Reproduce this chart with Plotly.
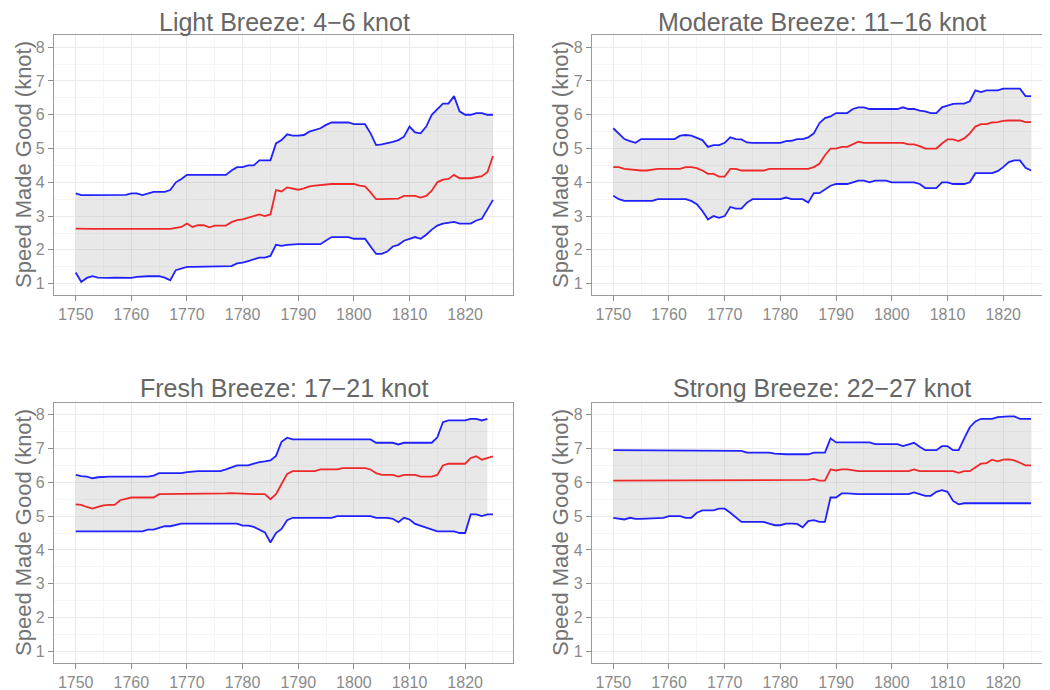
import plotly.graph_objects as go

years = list(range(1750, 1826))

titles = ["Light Breeze: 4\u22126 knot", "Moderate Breeze: 11\u221216 knot",
          "Fresh Breeze: 17\u221221 knot", "Strong Breeze: 22\u221227 knot"]

lb_upper = [3.67, 3.62, 3.62, 3.62, 3.62, 3.62, 3.62, 3.62, 3.62, 3.63,
            3.67, 3.67, 3.62, 3.67, 3.72, 3.72, 3.72, 3.77, 4.00, 4.10,
            4.22, 4.22, 4.22, 4.22, 4.22, 4.22, 4.22, 4.22, 4.35, 4.45,
            4.45, 4.50, 4.50, 4.65, 4.65, 4.65, 5.15, 5.25, 5.42, 5.38,
            5.38, 5.40, 5.50, 5.55, 5.60, 5.70, 5.77, 5.77, 5.77, 5.77,
            5.72, 5.72, 5.72, 5.45, 5.10, 5.12, 5.15, 5.20, 5.25, 5.35,
            5.65, 5.48, 5.45, 5.65, 6.00, 6.18, 6.33, 6.33, 6.55, 6.10,
            6.00, 6.00, 6.05, 6.05, 6.00, 6.00]
lb_mean = [2.63, 2.62, 2.62, 2.62, 2.62, 2.62, 2.62, 2.62, 2.62, 2.62,
           2.62, 2.62, 2.62, 2.62, 2.62, 2.62, 2.62, 2.62, 2.65, 2.68,
           2.78, 2.68, 2.73, 2.73, 2.67, 2.72, 2.72, 2.72, 2.82, 2.88,
           2.90, 2.95, 3.00, 3.05, 3.00, 3.05, 3.77, 3.73, 3.85, 3.82,
           3.78, 3.82, 3.88, 3.90, 3.92, 3.93, 3.95, 3.95, 3.95, 3.95,
           3.95, 3.90, 3.88, 3.70, 3.50, 3.50, 3.50, 3.52, 3.52, 3.60,
           3.60, 3.60, 3.55, 3.60, 3.75, 4.00, 4.08, 4.10, 4.22, 4.12,
           4.12, 4.12, 4.15, 4.18, 4.30, 4.78]
lb_lower = [1.33, 1.05, 1.17, 1.22, 1.18, 1.17, 1.17, 1.18, 1.17, 1.17,
            1.17, 1.20, 1.22, 1.22, 1.22, 1.22, 1.18, 1.10, 1.40, 1.45,
            1.50, 1.50, 1.50, 1.50, 1.50, 1.50, 1.50, 1.50, 1.52, 1.60,
            1.62, 1.67, 1.72, 1.77, 1.77, 1.82, 2.15, 2.12, 2.15, 2.17,
            2.17, 2.17, 2.17, 2.17, 2.17, 2.28, 2.38, 2.38, 2.38, 2.38,
            2.33, 2.33, 2.33, 2.10, 1.88, 1.88, 1.95, 2.10, 2.15, 2.27,
            2.33, 2.38, 2.33, 2.45, 2.60, 2.72, 2.78, 2.80, 2.83, 2.78,
            2.78, 2.78, 2.87, 2.92, 3.20, 3.48]

mb_upper = [5.60, 5.45, 5.28, 5.22, 5.17, 5.28, 5.28, 5.28, 5.28, 5.28,
            5.28, 5.28, 5.38, 5.40, 5.38, 5.32, 5.25, 5.05, 5.10, 5.10,
            5.17, 5.33, 5.28, 5.27, 5.18, 5.17, 5.17, 5.17, 5.17, 5.17,
            5.17, 5.22, 5.23, 5.28, 5.28, 5.33, 5.45, 5.75, 5.90, 5.95,
            6.05, 6.05, 6.05, 6.17, 6.22, 6.22, 6.17, 6.17, 6.17, 6.17,
            6.17, 6.17, 6.22, 6.17, 6.17, 6.12, 6.10, 6.05, 6.05, 6.22,
            6.27, 6.32, 6.33, 6.33, 6.40, 6.72, 6.67, 6.72, 6.72, 6.72,
            6.77, 6.77, 6.77, 6.77, 6.55, 6.55]
mb_mean = [4.45, 4.45, 4.40, 4.38, 4.35, 4.35, 4.35, 4.38, 4.40, 4.40,
           4.40, 4.40, 4.40, 4.45, 4.45, 4.42, 4.35, 4.25, 4.25, 4.17,
           4.17, 4.40, 4.40, 4.35, 4.35, 4.35, 4.35, 4.35, 4.40, 4.40,
           4.40, 4.40, 4.40, 4.40, 4.40, 4.40, 4.45, 4.55, 4.80, 5.00,
           5.00, 5.05, 5.05, 5.12, 5.20, 5.17, 5.17, 5.17, 5.17, 5.17,
           5.17, 5.17, 5.17, 5.12, 5.12, 5.07, 5.00, 5.00, 5.00, 5.15,
           5.27, 5.27, 5.22, 5.30, 5.45, 5.65, 5.72, 5.72, 5.77, 5.78,
           5.82, 5.83, 5.83, 5.83, 5.78, 5.78]
mb_lower = [3.60, 3.50, 3.45, 3.45, 3.45, 3.45, 3.45, 3.45, 3.50, 3.50,
            3.50, 3.50, 3.50, 3.50, 3.45, 3.35, 3.15, 2.90, 3.00, 2.95,
            3.00, 3.27, 3.22, 3.22, 3.40, 3.50, 3.50, 3.50, 3.50, 3.50,
            3.50, 3.55, 3.50, 3.50, 3.50, 3.40, 3.68, 3.68, 3.80, 3.90,
            3.95, 3.95, 3.95, 4.00, 4.05, 4.05, 4.00, 4.05, 4.05, 4.05,
            4.00, 4.00, 4.00, 4.00, 4.00, 3.95, 3.83, 3.83, 3.83, 4.00,
            4.00, 3.95, 3.95, 3.95, 4.00, 4.27, 4.27, 4.27, 4.27, 4.33,
            4.45, 4.60, 4.65, 4.65, 4.43, 4.35]

fb_upper = [6.22, 6.18, 6.17, 6.12, 6.15, 6.17, 6.17, 6.17, 6.17, 6.17,
            6.17, 6.17, 6.17, 6.17, 6.20, 6.27, 6.27, 6.27, 6.27, 6.27,
            6.30, 6.32, 6.33, 6.33, 6.33, 6.33, 6.33, 6.38, 6.45, 6.50,
            6.50, 6.50, 6.55, 6.60, 6.62, 6.65, 6.78, 7.20, 7.32, 7.27,
            7.27, 7.27, 7.27, 7.27, 7.27, 7.27, 7.27, 7.27, 7.27, 7.27,
            7.27, 7.27, 7.27, 7.27, 7.17, 7.17, 7.17, 7.17, 7.12, 7.17,
            7.17, 7.17, 7.17, 7.17, 7.17, 7.33, 7.78, 7.83, 7.83, 7.83,
            7.83, 7.88, 7.88, 7.83, 7.88, None]
fb_mean = [5.35, 5.33, 5.27, 5.22, 5.27, 5.32, 5.33, 5.33, 5.47, 5.50,
           5.55, 5.55, 5.55, 5.55, 5.55, 5.65, 5.65, 5.65, 5.65, 5.65,
           5.65, 5.65, 5.65, 5.65, 5.65, 5.66, 5.67, 5.67, 5.68, 5.67,
           5.65, 5.65, 5.65, 5.65, 5.65, 5.50, 5.65, 5.95, 6.25, 6.33,
           6.33, 6.33, 6.33, 6.33, 6.38, 6.38, 6.38, 6.38, 6.42, 6.42,
           6.42, 6.42, 6.42, 6.38, 6.27, 6.22, 6.22, 6.22, 6.17, 6.22,
           6.22, 6.22, 6.17, 6.17, 6.17, 6.22, 6.50, 6.55, 6.55, 6.55,
           6.55, 6.72, 6.77, 6.67, 6.72, 6.77]
fb_lower = [4.55, 4.55, 4.55, 4.55, 4.55, 4.55, 4.55, 4.55, 4.55, 4.55,
            4.55, 4.55, 4.55, 4.60, 4.60, 4.65, 4.70, 4.70, 4.75, 4.78,
            4.78, 4.78, 4.78, 4.78, 4.78, 4.78, 4.78, 4.78, 4.78, 4.78,
            4.72, 4.72, 4.68, 4.60, 4.52, 4.22, 4.50, 4.62, 4.88, 4.95,
            4.95, 4.95, 4.95, 4.95, 4.95, 4.95, 4.95, 5.00, 5.00, 5.00,
            5.00, 5.00, 5.00, 5.00, 4.95, 4.95, 4.95, 4.92, 4.82, 4.95,
            4.90, 4.77, 4.72, 4.67, 4.60, 4.55, 4.55, 4.55, 4.55, 4.50,
            4.50, 5.05, 5.05, 5.00, 5.05, 5.05]

sb_upper = [6.95, 6.95, 6.95, 6.95, 6.95, 6.95, 6.95, 6.95, 6.95, 6.95,
            6.95, 6.95, 6.95, 6.95, 6.95, 6.95, 6.95, 6.95, 6.95, 6.95,
            6.95, 6.95, 6.95, 6.93, 6.88, 6.88, 6.88, 6.88, 6.88, 6.85,
            6.83, 6.83, 6.83, 6.83, 6.83, 6.83, 6.88, 6.88, 6.88, 7.30,
            7.18, 7.18, 7.18, 7.18, 7.18, 7.18, 7.18, 7.13, 7.13, 7.13,
            7.13, 7.13, 7.07, 7.13, 7.17, 7.05, 6.95, 6.95, 6.95, 7.07,
            7.07, 6.95, 6.95, 7.30, 7.63, 7.80, 7.88, 7.88, 7.88, 7.93,
            7.95, 7.95, 7.95, 7.88, 7.88, 7.88]
sb_mean = [6.05, 6.05, 6.05, 6.05, 6.05, 6.05, 6.05, 6.05, 6.05, 6.05,
           6.05, 6.05, 6.05, 6.05, 6.05, 6.05, 6.05, 6.05, 6.05, 6.05,
           6.05, 6.05, 6.05, 6.05, 6.05, 6.05, 6.05, 6.05, 6.05, 6.05,
           6.05, 6.05, 6.05, 6.05, 6.05, 6.07, 6.10, 6.05, 6.05, 6.38,
           6.35, 6.38, 6.38, 6.35, 6.33, 6.33, 6.33, 6.33, 6.33, 6.33,
           6.33, 6.33, 6.33, 6.33, 6.38, 6.33, 6.33, 6.33, 6.33, 6.33,
           6.33, 6.33, 6.28, 6.33, 6.33, 6.45, 6.55, 6.57, 6.67, 6.62,
           6.67, 6.68, 6.65, 6.58, 6.50, 6.50]
sb_lower = [4.95, 4.92, 4.90, 4.95, 4.92, 4.92, 4.93, 4.95, 4.95, 4.95,
            5.00, 5.00, 5.00, 4.95, 4.95, 5.10, 5.17, 5.17, 5.17, 5.22,
            5.22, 5.10, 4.95, 4.83, 4.83, 4.83, 4.83, 4.83, 4.78, 4.73,
            4.73, 4.78, 4.78, 4.77, 4.67, 4.85, 4.88, 4.83, 4.83, 5.55,
            5.55, 5.67, 5.67, 5.65, 5.65, 5.65, 5.65, 5.65, 5.65, 5.65,
            5.65, 5.65, 5.65, 5.65, 5.70, 5.65, 5.60, 5.60, 5.72, 5.77,
            5.72, 5.45, 5.35, 5.38, 5.38, 5.38, 5.40, 5.40, 5.40, 5.40,
            5.40, 5.40, 5.40, 5.38, 5.38, 5.38]

x_ticks = [1750, 1760, 1770, 1780, 1790, 1800, 1810, 1820]
x_minor = [1755, 1765, 1775, 1785, 1795, 1805, 1815, 1825]
y_ticks = [1, 2, 3, 4, 5, 6, 7, 8]
y_minor = [1.5, 2.5, 3.5, 4.5, 5.5, 6.5, 7.5]
y_title = "Speed Made Good (knot)"

series = [(lb_upper, lb_mean, lb_lower), (mb_upper, mb_mean, mb_lower),
          (fb_upper, fb_mean, fb_lower), (sb_upper, sb_mean, sb_lower)]

# page has an 8px body margin: the figure spans page px 8..1050 and 8..690
OFF = 8
W, H = 1050 - OFF, 690 - OFF
FONT = "Liberation Sans, Arial, Helvetica, sans-serif"


def px(x):
    return (x - OFF) / W


def py(y):
    return (690 - y) / H


# page-pixel boxes: (left, right, top, bottom)
boxes = [(54, 513, 35, 295), (592, 1050, 35, 295),
         (54, 513, 403, 663), (592, 1050, 403, 663)]
xranges = [[1746.1, 1828.6], [1746.18, 1828.4], [1746.1, 1828.6], [1746.18, 1828.4]]
yranges = [[0.665, 8.36], [0.665, 8.36], [0.653, 8.347], [0.653, 8.347]]
title_x = [284, 822, 284, 822]
title_y = [22, 22, 388, 388]
ytitle_x = [23, 560, 23, 560]

fig = go.Figure()
layout = dict(width=W, height=H, margin=dict(l=0, r=0, t=0, b=0),
              paper_bgcolor="white", plot_bgcolor="white", showlegend=False,
              font=dict(family=FONT), annotations=[])

for i, (up, mn, lo) in enumerate(series):
    xa = "x" if i == 0 else f"x{i+1}"
    ya = "y" if i == 0 else f"y{i+1}"
    idx = [k for k in range(len(years)) if up[k] is not None and lo[k] is not None]
    rx = [years[k] for k in idx] + [years[k] for k in reversed(idx)]
    ry = [up[k] for k in idx] + [lo[k] for k in reversed(idx)]
    fig.add_trace(go.Scatter(x=rx, y=ry, mode="lines", fill="toself",
                             fillcolor="rgba(170,170,170,0.27)", line=dict(width=0),
                             hoverinfo="skip", xaxis=xa, yaxis=ya))
    fig.add_trace(go.Scatter(x=years, y=up, mode="lines",
                             line=dict(color="rgba(10,10,255,0.9)", width=1.8),
                             xaxis=xa, yaxis=ya))
    fig.add_trace(go.Scatter(x=years, y=lo, mode="lines",
                             line=dict(color="rgba(10,10,255,0.9)", width=1.8),
                             xaxis=xa, yaxis=ya))
    fig.add_trace(go.Scatter(x=years, y=mn, mode="lines",
                             line=dict(color="rgba(240,20,20,0.9)", width=1.8),
                             xaxis=xa, yaxis=ya))

    l, r, t, b = boxes[i]
    key = "" if i == 0 else str(i + 1)
    layout["xaxis" + key] = dict(
        domain=[px(l), min(px(r), 1.0)], anchor=ya, range=xranges[i],
        tickmode="array", tickvals=x_ticks, ticks="outside", ticklen=5,
        tickwidth=1.2, tickcolor="#8c8c8c", showgrid=True, gridcolor="#ebebeb",
        gridwidth=1, zeroline=False, showline=True, linecolor="#9a9a9a",
        linewidth=1.2, mirror=True,
        tickfont=dict(size=16, color="#8a8a8a", family=FONT),
        minor=dict(tickvals=x_minor, showgrid=True, gridcolor="#f5f5f5",
                   gridwidth=0.8, ticks=""))
    layout["yaxis" + key] = dict(
        domain=[py(b), py(t)], anchor=xa, range=yranges[i],
        tickmode="array", tickvals=y_ticks, ticks="outside", ticklen=5,
        tickwidth=1.2, tickcolor="#8c8c8c", showgrid=True, gridcolor="#ebebeb",
        gridwidth=1, zeroline=False, showline=True, linecolor="#9a9a9a",
        linewidth=1.2, mirror=(i % 2 == 0),
        tickfont=dict(size=16, color="#8a8a8a", family=FONT),
        minor=dict(tickvals=y_minor, showgrid=True, gridcolor="#f5f5f5",
                   gridwidth=0.8, ticks=""))
    layout["annotations"].append(dict(
        text=titles[i], x=px(title_x[i]), y=py(title_y[i]),
        xref="paper", yref="paper", xanchor="center", yanchor="middle",
        showarrow=False, font=dict(size=25, color="#666666", family=FONT)))
    layout["annotations"].append(dict(
        text=y_title, x=px(ytitle_x[i]), y=py((t + b) / 2),
        xref="paper", yref="paper", xanchor="center", yanchor="middle",
        textangle=-90, showarrow=False,
        font=dict(size=22, color="#747474", family=FONT)))

fig.update_layout(**layout)
fig.write_html("out.html")
